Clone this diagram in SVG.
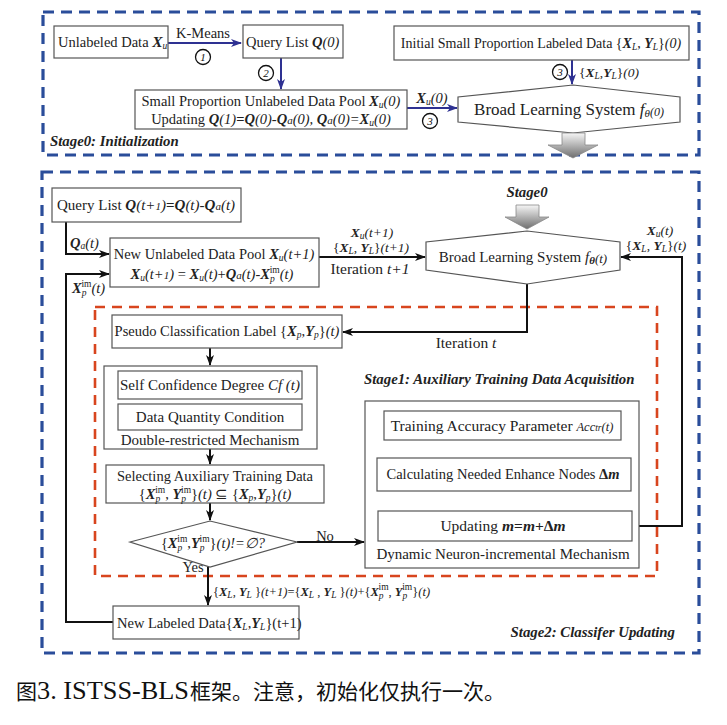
<svg xmlns="http://www.w3.org/2000/svg" width="727" height="725" viewBox="0 0 727 725">
<defs>
<marker id="ab" markerWidth="11" markerHeight="8" refX="10" refY="4" orient="auto" markerUnits="userSpaceOnUse"><path d="M0,0 L11,4 L0,8 L3,4 Z" fill="#2E3192"/></marker>
<marker id="ak" markerWidth="11" markerHeight="8" refX="10" refY="4" orient="auto" markerUnits="userSpaceOnUse"><path d="M0,0 L11,4 L0,8 L3,4 Z" fill="#111"/></marker>
<linearGradient id="g" x1="0" y1="0" x2="0" y2="1"><stop offset="0" stop-color="#f6f6f6"/><stop offset="1" stop-color="#6e6e6e"/></linearGradient>
</defs>
<style>
.t{font-family:"Liberation Serif","Times New Roman",serif;font-size:14.5px;fill:#222}
.c{text-anchor:middle}
.m{font-weight:bold;font-style:italic}
.b{font-weight:bold}
.i{font-style:italic}
.s{font-size:9.5px}
.box{fill:#fff;stroke:#555;stroke-width:1.2}
.cb{fill:none;stroke:#2E3192;stroke-width:2}
.ck{fill:none;stroke:#111;stroke-width:2}
.fb{fill:none;stroke:#2A4D9A;stroke-width:3.2;stroke-dasharray:11 7}
.fo{fill:none;stroke:#D8451E;stroke-width:2.6;stroke-dasharray:10 7}
.n circle{fill:#fff;stroke:#111;stroke-width:1.3}
.n text{font-family:"Liberation Serif",serif;font-size:11px;font-style:italic;text-anchor:middle;fill:#111}
.gar{fill:url(#g);stroke:#888;stroke-width:0.8}
.lab{font-family:"Liberation Serif","Times New Roman",serif;font-size:14.8px;font-weight:bold;font-style:italic;fill:#222}
.cap{font-family:"Liberation Serif","Noto Sans CJK SC",serif;fill:#111}
.capz{font-family:"Noto Sans CJK SC",sans-serif;font-size:21px;fill:#111}
</style>

<!-- frames -->
<g id="frames">
<rect class="fb" x="43" y="12" width="656" height="143"/>
<rect class="fb" x="42" y="172" width="657" height="481"/>
<rect class="fo" x="95" y="307" width="562" height="269"/>
</g>

<!-- connectors -->
<g id="connectors">
<line class="cb" x1="168" y1="43" x2="241" y2="43" marker-end="url(#ab)"/>
<line class="cb" x1="281" y1="58" x2="281" y2="89" marker-end="url(#ab)"/>
<line class="cb" x1="572" y1="60" x2="572" y2="84" marker-end="url(#ab)"/>
<line class="cb" x1="407" y1="108" x2="457" y2="108" marker-end="url(#ab)"/>
<path class="ck" d="M66,222 V254 H109" marker-end="url(#ak)"/>
<path class="ck" d="M113,622 H66 V274 H109" marker-end="url(#ak)"/>
<line class="ck" x1="319" y1="257" x2="425" y2="257" marker-end="url(#ak)"/>
<path class="ck" d="M632,526 H682 V257 H621" marker-end="url(#ak)"/>
<path class="ck" d="M527,284 V332 H343" marker-end="url(#ak)"/>
<line class="ck" x1="210" y1="348" x2="210" y2="365" marker-end="url(#ak)"/>
<line class="ck" x1="210" y1="449" x2="210" y2="464" marker-end="url(#ak)"/>
<line class="ck" x1="210" y1="503" x2="210" y2="520" marker-end="url(#ak)"/>
<line class="ck" x1="297" y1="542" x2="364" y2="542" marker-end="url(#ak)"/>
<line class="ck" x1="208" y1="567" x2="208" y2="605" marker-end="url(#ak)"/>
<line class="ck" x1="504" y1="440" x2="504" y2="457" marker-end="url(#ak)"/>
<line class="ck" x1="504" y1="491" x2="504" y2="510" marker-end="url(#ak)"/>
</g>

<!-- connector labels -->
<g id="labels">
<text class="t c" x="203" y="38">K-Means</text>
<g class="n"><circle cx="203" cy="57" r="7.5"/><text x="203" y="61">1</text></g>
<g class="n"><circle cx="266" cy="73" r="7.5"/><text x="266" y="77">2</text></g>
<g class="n"><circle cx="560" cy="72" r="7.5"/><text x="560" y="76">3</text></g>
<g class="n"><circle cx="430" cy="121" r="7.5"/><text x="430" y="125">3</text></g>
<text class="t" x="579" y="77" style="font-size:13.5px">{<tspan class="m">X</tspan><tspan class="i s" dy="2">L</tspan><tspan dy="-2">,</tspan><tspan class="m">Y</tspan><tspan class="i s" dy="2">L</tspan><tspan dy="-2">}</tspan><tspan class="i">(0)</tspan></text>
<text class="t c" x="432" y="103"><tspan class="m">X</tspan><tspan class="i s" dy="2">u</tspan><tspan class="i" dy="-2">(0)</tspan></text>

<text class="t c" x="372" y="237" style="font-size:13.5px"><tspan class="m">X</tspan><tspan class="i s" dy="2">u</tspan><tspan class="i" dy="-2">(t+1)</tspan></text>
<text class="t c" x="371" y="252" style="font-size:13.5px">{<tspan class="m">X</tspan><tspan class="i s" dy="2">L</tspan><tspan dy="-2">, </tspan><tspan class="m">Y</tspan><tspan class="i s" dy="2">L</tspan><tspan dy="-2">}</tspan><tspan class="i">(t+1)</tspan></text>
<text class="t c" x="370" y="274" style="font-size:15.5px">Iteration <tspan class="i">t+1</tspan></text>
<text class="t" x="70" y="248"><tspan class="m">Q</tspan><tspan class="i s" dy="1">a</tspan><tspan class="i" dy="-1">(t)</tspan></text>
<text class="t" x="72" y="293"><tspan class="m">X</tspan><tspan class="i s" dy="3">p</tspan><tspan class="s" dx="-5" dy="-9">im</tspan><tspan class="i" dy="6">(t)</tspan></text>
<text class="t c" x="660" y="235" style="font-size:13.5px"><tspan class="m">X</tspan><tspan class="i s" dy="2">u</tspan><tspan class="i" dy="-2">(t)</tspan></text>
<text class="t c" x="656" y="250" style="font-size:13.5px">{<tspan class="m">X</tspan><tspan class="i s" dy="2">L</tspan><tspan dy="-2">, </tspan><tspan class="m">Y</tspan><tspan class="i s" dy="2">L</tspan><tspan dy="-2">}</tspan><tspan class="i">(t)</tspan></text>
<text class="t c" x="466" y="348" style="font-size:15.5px">Iteration <tspan class="i">t</tspan></text>
<text class="t c" x="325" y="541">No</text>
<text class="t c" x="193" y="572">Yes</text>
<text class="t" x="213" y="596" style="font-size:12.5px">{<tspan class="m">X</tspan><tspan class="i s" dy="2">L</tspan><tspan dy="-2">, </tspan><tspan class="m">Y</tspan><tspan class="i s" dy="2">L</tspan><tspan dy="-2"> }</tspan><tspan class="i">(t+1)</tspan>={<tspan class="m">X</tspan><tspan class="i s" dy="2">L</tspan><tspan dy="-2"> , </tspan><tspan class="m">Y</tspan><tspan class="i s" dy="2">L</tspan><tspan dy="-2"> }</tspan><tspan class="i">(t)</tspan>+{<tspan class="m">X</tspan><tspan class="i s" dy="3">p</tspan><tspan class="s" dx="-5" dy="-9">im</tspan><tspan dy="6">, </tspan><tspan class="m">Y</tspan><tspan class="i s" dy="3">p</tspan><tspan class="s" dx="-5" dy="-9">im</tspan><tspan dy="6">}</tspan><tspan class="i">(t)</tspan></text>
</g>

<!-- Stage0 nodes -->
<g id="n-unlabeled">
<rect class="box" x="54" y="26" width="114" height="32"/>
<text class="t" x="58" y="47">Unlabeled Data <tspan class="m" style="font-size:15.5px">X</tspan><tspan class="i s" dy="2">u</tspan></text>
</g>
<g id="n-query0">
<rect class="box" x="243" y="25" width="100" height="33"/>
<text class="t" x="246" y="47">Query List <tspan class="m">Q</tspan><tspan class="i">(0)</tspan></text>
</g>
<g id="n-pool0">
<rect class="box" x="135" y="90" width="272" height="39"/>
<text class="t c" x="271" y="106">Small Proportion Unlabeled Data Pool <tspan class="m">X</tspan><tspan class="i s" dy="2">u</tspan><tspan class="i" dy="-2">(0)</tspan></text>
<text class="t c" x="271" y="124">Updating <tspan class="m">Q</tspan><tspan class="i">(1)</tspan><tspan class="b">=</tspan><tspan class="m">Q</tspan><tspan class="i">(0)</tspan>-<tspan class="m">Q</tspan><tspan class="i" style="font-size:11px">a</tspan><tspan class="i">(0),</tspan>  <tspan class="m">Q</tspan><tspan class="i" style="font-size:11px">a</tspan><tspan class="i">(0)=</tspan><tspan class="m">X</tspan><tspan class="i s" dy="2">u</tspan><tspan class="i" dy="-2">(0)</tspan></text>
</g>
<g id="n-labeled0">
<rect class="box" x="394" y="26" width="295" height="34"/>
<text class="t c" x="541" y="48" style="font-size:14px">Initial Small Proportion Labeled Data {<tspan class="m">X</tspan><tspan class="i s" dy="2">L</tspan><tspan dy="-2">, </tspan><tspan class="m">Y</tspan><tspan class="i s" dy="2">L</tspan><tspan dy="-2">}</tspan><tspan class="i">(0)</tspan></text>
</g>
<g id="n-bls0">
<polygon class="box" points="573,85 680,97 680,122 573,133 458,122 458,97"/>
<text class="t c" x="569" y="115" style="font-size:17px">Broad Learning System <tspan class="i">f</tspan><tspan class="i" style="font-size:11px" dy="2">θ</tspan><tspan class="i" style="font-size:12px" dy="-1">(0)</tspan></text>
<path class="gar" d="M562,133 H585 V145 H598 L573,158 L548,145 H562 Z"/>
</g>
<text class="lab" x="50" y="146">Stage0: Initialization</text>

<!-- Stage2 nodes -->
<text class="lab" x="527" y="197" style="text-anchor:middle">Stage0</text>
<path class="gar" d="M516,205 H539 V217 H549 L527,229 L505,217 H516 Z"/>
<g id="n-bls">
<polygon class="box" points="527,231 620,242 620,270 527,284 426,270 426,242"/>
<text class="t c" x="523" y="262" style="font-size:15px">Broad Learning System <tspan class="i">f</tspan><tspan class="i m" style="font-size:11px" dy="2">θ</tspan><tspan class="i" style="font-size:13px" dy="-1">(t)</tspan></text>
</g>
<g id="n-query">
<rect class="box" x="52" y="188" width="189" height="34"/>
<text class="t" x="57" y="210" style="font-size:15px">Query List <tspan class="m">Q</tspan><tspan class="i">(t+</tspan><tspan class="i" style="font-size:11px">1</tspan><tspan class="i">)</tspan><tspan class="b">=</tspan><tspan class="m">Q</tspan><tspan class="i">(t)</tspan>-<tspan class="m">Q</tspan><tspan class="i" style="font-size:11px">a</tspan><tspan class="i">(t)</tspan></text>
</g>
<g id="n-pool">
<rect class="box" x="110" y="238" width="209" height="49"/>
<text class="t c" x="214" y="259">New Unlabeled Data Pool <tspan class="m">X</tspan><tspan class="i s" dy="2">u</tspan><tspan class="i" dy="-2">(t+1)</tspan></text>
<text class="t c" x="212" y="279"><tspan class="m">X</tspan><tspan class="i s" dy="2">u</tspan><tspan class="i" dy="-2">(t+</tspan><tspan class="i" style="font-size:11px">1</tspan><tspan class="i">)</tspan> = <tspan class="m">X</tspan><tspan class="i s" dy="2">u</tspan><tspan class="i" dy="-2">(t)</tspan>+<tspan class="m">Q</tspan><tspan class="i" style="font-size:11px">a</tspan><tspan class="i">(t)</tspan>-<tspan class="m">X</tspan><tspan class="i s" dy="3">p</tspan><tspan class="s" dx="-5" dy="-9">im</tspan><tspan class="i" dy="6">(t)</tspan></text>
</g>
<g id="n-pseudo">
<rect class="box" x="112" y="315" width="230" height="33"/>
<text class="t c" x="227" y="336">Pseudo Classification Label {<tspan class="m">X</tspan><tspan class="i s" dy="2">p</tspan><tspan dy="-2">,</tspan><tspan class="m">Y</tspan><tspan class="i s" dy="2">p</tspan><tspan dy="-2">}</tspan><tspan class="i">(t)</tspan></text>
</g>
<g id="n-double">
<rect class="box" x="104" y="366" width="213" height="83"/>
<rect class="box" x="118" y="371" width="184" height="28"/>
<text class="t c" x="210" y="390" style="font-size:15px">Self Confidence Degree  <tspan class="i">Cf (t)</tspan></text>
<rect class="box" x="118" y="404" width="184" height="26"/>
<text class="t c" x="210" y="422" style="font-size:15px">Data Quantity Condition</text>
<text class="t c" x="210" y="445" style="font-size:15px">Double-restricted Mechanism</text>
</g>
<g id="n-select">
<rect class="box" x="106" y="465" width="218" height="38"/>
<text class="t c" x="215" y="481">Selecting Auxiliary Training Data</text>
<text class="t c" x="215" y="499">{<tspan class="m">X</tspan><tspan class="i s" dy="3">p</tspan><tspan class="s" dx="-5" dy="-9">im</tspan><tspan dy="6">, </tspan><tspan class="m">Y</tspan><tspan class="i s" dy="3">p</tspan><tspan class="s" dx="-5" dy="-9">im</tspan><tspan dy="6">}</tspan><tspan class="i">(t)</tspan> ⊆ {<tspan class="m">X</tspan><tspan class="i s" dy="2">p</tspan><tspan dy="-2">,</tspan><tspan class="m">Y</tspan><tspan class="i s" dy="2">p</tspan><tspan dy="-2">}</tspan><tspan class="i">(t)</tspan></text>
</g>
<g id="n-decision">
<polygon class="box" points="130,542 210,521 297,542 210,567"/>
<text class="t c" x="213" y="548">{<tspan class="m">X</tspan><tspan class="i s" dy="3">p</tspan><tspan class="s" dx="-5" dy="-9">im</tspan><tspan dy="6">,</tspan><tspan class="m">Y</tspan><tspan class="i s" dy="3">p</tspan><tspan class="s" dx="-5" dy="-9">im</tspan><tspan dy="6">}</tspan><tspan class="i">(t)!=∅?</tspan></text>
</g>
<g id="n-newlabeled">
<rect class="box" x="113" y="606" width="186" height="33"/>
<text class="t" x="117" y="628" style="font-size:14.5px">New Labeled Data{<tspan class="m">X</tspan><tspan class="i s" dy="2">L</tspan><tspan dy="-2">,</tspan><tspan class="m">Y</tspan><tspan class="i s" dy="2">L</tspan><tspan dy="-2">}(t+1)</tspan></text>
</g>
<text class="lab" x="364" y="384">Stage1: Auxiliary Training Data Acquisition</text>
<g id="n-dynamic">
<rect class="box" x="365" y="401" width="274" height="167"/>
<rect class="box" x="384" y="411" width="237" height="29"/>
<text class="t c" x="502" y="431" style="font-size:15.5px">Training Accuracy Parameter  <tspan class="i" style="font-size:12.5px">Acc</tspan><tspan class="i s">tr</tspan><tspan class="i" style="font-size:12.5px">(t)</tspan></text>
<rect class="box" x="377" y="458" width="254" height="33"/>
<text class="t c" x="503" y="479">Calculating Needed Enhance Nodes <tspan class="b">Δ</tspan><tspan class="m">m</tspan></text>
<rect class="box" x="378" y="511" width="254" height="30"/>
<text class="t c" x="503" y="531" style="font-size:15.5px">Updating  <tspan class="m">m</tspan><tspan class="b">=</tspan><tspan class="m">m</tspan><tspan class="b">+Δ</tspan><tspan class="m">m</tspan></text>
<text class="t c" x="503" y="559" style="font-size:15px">Dynamic Neuron-incremental Mechanism</text>
</g>
<text class="lab" x="675" y="637" style="text-anchor:end">Stage2: Classifer Updating</text>

<!-- caption -->
<text class="capz" x="16" y="699">图</text>
<text class="cap" x="37" y="699" style="font-size:25px" textLength="152" lengthAdjust="spacingAndGlyphs">3. ISTSS-BLS</text>
<text class="capz" x="190" y="699">框架。注意，初始化仅执行一次。</text>
</svg>
